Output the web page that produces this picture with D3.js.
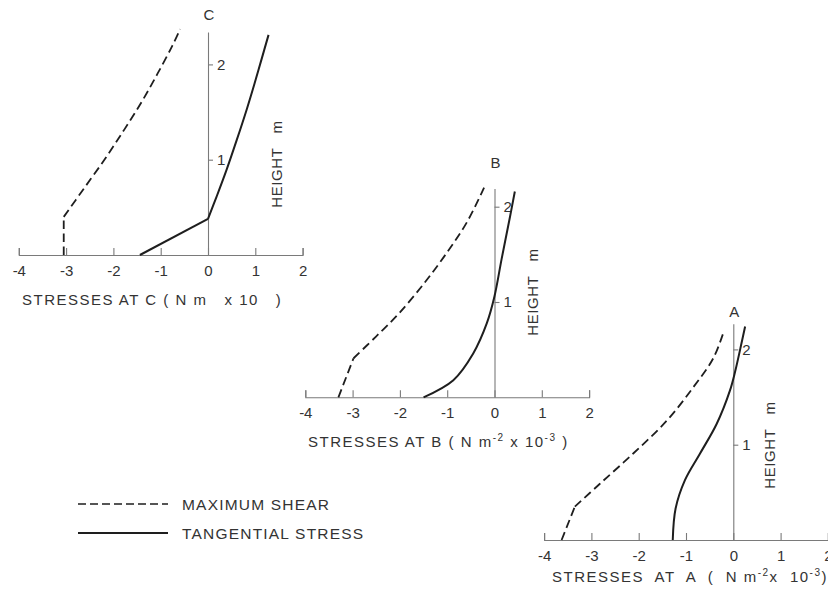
<!DOCTYPE html>
<html>
<head>
<meta charset="utf-8">
<script src="https://cdn.jsdelivr.net/npm/d3@7/dist/d3.min.js"></script>
<style>
  html, body { margin: 0; padding: 0; background: #fff; }
  svg { display: block; }
  text { font-family: "Liberation Sans", Arial, sans-serif; fill: #333; }
</style>
</head>
<body>
<svg id="chart" width="828" height="591"></svg>
<script>
// Stress axis ticks (N m^-2 x 10^-3) and height ticks (m)
const stressTicks = [-4, -3, -2, -1, 0, 1, 2];
const heightTicks = [1, 2];

// Profiles as [stress, height] pairs, from the ground upward
const shearC = [[-3.05, 0], [-3.05, 0.40], [-2.62, 0.70], [-2.19, 1.00], [-1.79, 1.30],
                [-1.41, 1.60], [-1.07, 1.90], [-0.75, 2.20], [-0.59, 2.37]];
const tangentialC = [[-1.44, 0], [0.0, 0.38], [0.18, 0.61], [0.39, 0.89], [0.61, 1.21],
                     [0.82, 1.53], [0.99, 1.81], [1.13, 2.05], [1.28, 2.31]];

const shearB = [[-3.30, 0], [-2.98, 0.41], [-2.50, 0.64], [-2.02, 0.88], [-1.45, 1.22],
                [-0.99, 1.53], [-0.58, 1.84], [-0.22, 2.20]];
const tangentialB = [[-1.50, 0], [-0.87, 0.18], [-0.45, 0.46], [-0.16, 0.78], [0.0, 1.06],
                     [0.15, 1.45], [0.33, 1.90], [0.43, 2.16]];

const shearA = [[-3.63, 0], [-3.35, 0.35], [-2.82, 0.59], [-2.11, 0.91], [-1.41, 1.25],
                [-0.85, 1.60], [-0.42, 1.91], [-0.20, 2.19]];
const tangentialA = [[-1.28, 0], [-1.22, 0.33], [-1.02, 0.63], [-0.70, 0.91], [-0.35, 1.22],
                     [-0.07, 1.57], [0.04, 1.77], [0.18, 2.08], [0.25, 2.24]];

const legendLabels = ["MAXIMUM SHEAR", "TANGENTIAL STRESS"];

// Panel layout: where the zero-stress / ground point sits, and how tall the height axis runs
const UNIT_X = 47.3;   // px per stress unit
const UNIT_Y = 95.3;   // px per metre
const panels = [
  { name: "C", x0: 208.0, y0: 255.0, top: 2.34, nameY: 20, shear: shearC, tang: tangentialC,
    shearKink: 1, tangKink: 1, heightLabelX: 277, heightLabelY: 164,
    titleX: 22, titleY: 305, title: [["STRESSES AT C ( N m", 0], ["   x 10   )", 0]] },
  { name: "B", x0: 494.5, y0: 397.3, top: 2.19, nameY: 168, shear: shearB, tang: tangentialB,
    shearKink: 1, tangKink: 0, heightLabelX: 533, heightLabelY: 292,
    titleX: 308, titleY: 447, title: [["STRESSES AT B ( N m", 0], ["-2", 1], [" x 10", 0], ["-3", 1], [" )", 0]] },
  { name: "A", x0: 733.3, y0: 540.0, top: 2.27, nameY: 317, shear: shearA, tang: tangentialA,
    shearKink: 1, tangKink: 0, heightLabelX: 770, heightLabelY: 445,
    titleX: 552, titleY: 582, title: [["STRESSES  AT  A  (  N m", 0], ["-2", 1], ["x  10", 0], ["-3", 1], [")", 0]] }
];

const svg = d3.select("#chart");
svg.append("rect").attr("width", 828).attr("height", 591).attr("fill", "#fff");

const ink = "#1e1e1e";
const axisInk = "#7a7a7a";

function drawProfile(g, x, y, data, kink, dashed) {
  const straight = d3.line().x(d => x(d[0])).y(d => y(d[1]));
  const smooth = d3.line().x(d => x(d[0])).y(d => y(d[1])).curve(d3.curveCatmullRom.alpha(0.5));
  const parts = [];
  if (kink > 0) parts.push(straight(data.slice(0, kink + 1)));
  parts.push(smooth(data.slice(kink)));
  parts.forEach(p => {
    g.append("path")
      .attr("d", p)
      .attr("fill", "none")
      .attr("stroke", ink)
      .attr("stroke-width", dashed ? 1.8 : 2)
      .attr("stroke-dasharray", dashed ? "8.5,4.5" : null)
      .attr("stroke-linecap", "butt")
      .attr("stroke-linejoin", "round");
  });
}

panels.forEach(p => {
  const x = d3.scaleLinear().domain([-4, 2]).range([p.x0 - 4 * UNIT_X, p.x0 + 2 * UNIT_X]);
  const y = d3.scaleLinear().domain([0, p.top]).range([p.y0, p.y0 - p.top * UNIT_Y]);
  const g = svg.append("g");

  // Stress axis along the ground, ticks pointing up
  const xAxis = d3.axisBottom(x)
    .tickValues(stressTicks)
    .tickFormat(d => String(d))
    .tickSizeInner(-7)
    .tickSizeOuter(-7)
    .tickPadding(10);
  const gx = g.append("g").attr("transform", `translate(0,${p.y0})`).call(xAxis);
  gx.select(".domain").attr("stroke", axisInk).attr("stroke-width", 1.1);
  gx.selectAll(".tick line").attr("stroke", axisInk).attr("stroke-width", 1.1);
  gx.selectAll(".tick text").attr("font-size", 15).attr("fill", "#333")
    .attr("font-family", "Liberation Sans, Arial, sans-serif");

  // Height axis at zero stress
  const yAxis = d3.axisRight(y)
    .tickValues(heightTicks)
    .tickFormat(d => String(d))
    .tickSizeInner(5)
    .tickSizeOuter(0)
    .tickPadding(4);
  const gy = g.append("g").attr("transform", `translate(${p.x0},0)`).call(yAxis);
  gy.select(".domain").attr("stroke", axisInk).attr("stroke-width", 1.1);
  gy.selectAll(".tick line").attr("stroke", axisInk).attr("stroke-width", 1.1);
  gy.selectAll(".tick text").attr("font-size", 15).attr("fill", "#333")
    .attr("font-family", "Liberation Sans, Arial, sans-serif");

  // Station letter above the height axis
  g.append("text")
    .attr("x", p.x0 + 1)
    .attr("y", p.nameY)
    .attr("text-anchor", "middle")
    .attr("font-size", 15)
    .text(p.name);

  // Height axis title, reading upward
  g.append("text")
    .attr("transform", `translate(${p.heightLabelX + 5},${p.heightLabelY}) rotate(-90)`)
    .attr("text-anchor", "middle")
    .attr("font-size", 15)
    .attr("letter-spacing", 0.6)
    .attr("xml:space", "preserve")
    .text("HEIGHT   m");

  // Stress axis title with superscripts
  const t = g.append("text")
    .attr("x", p.titleX)
    .attr("y", p.titleY)
    .attr("font-size", 15)
    .attr("letter-spacing", 1.5)
    .attr("xml:space", "preserve");
  p.title.forEach(([s, sup], i) => {
    const prevSup = i > 0 && p.title[i - 1][1];
    t.append("tspan")
      .attr("font-size", sup ? 10 : 15)
      .attr("dy", sup ? -6 : (prevSup ? 6 : 0))
      .text(s);
  });

  drawProfile(g, x, y, p.shear, p.shearKink, true);
  drawProfile(g, x, y, p.tang, p.tangKink, false);
});

// Legend
const legend = svg.append("g");
legendLabels.forEach((label, i) => {
  const ly = 504 + i * 29;
  legend.append("line")
    .attr("x1", 78).attr("x2", 168)
    .attr("y1", ly).attr("y2", ly)
    .attr("stroke", ink)
    .attr("stroke-width", i === 0 ? 1.6 : 1.8)
    .attr("stroke-dasharray", i === 0 ? "8,4" : null);
  legend.append("text")
    .attr("x", 182).attr("y", ly + 5.5)
    .attr("font-size", 15.5)
    .attr("letter-spacing", 1.2)
    .text(label);
});
</script>
</body>
</html>
